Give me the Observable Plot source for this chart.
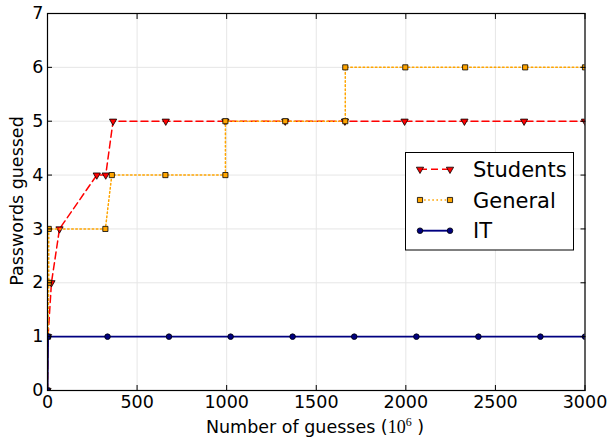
<!DOCTYPE html>
<html><head><meta charset="utf-8">
<script src="https://cdn.jsdelivr.net/npm/d3@7"></script>
<script src="https://cdn.jsdelivr.net/npm/@observablehq/plot@0.6"></script>
<style>
html,body{margin:0;padding:0;background:#fff;}
#chart{width:608px;height:441px;}
svg{display:block;}
</style></head><body><div id="chart"></div>
<script>
// ---- data ----
const seriesNames = ["Students", "General", "IT"];
const studentsX = [0, 3, 22, 67, 275, 325, 366, 660, 993, 1327, 1660, 1993, 2327, 2660, 3000];
const studentsY = [0, 1, 2, 3, 4, 4, 5, 5, 5, 5, 5, 5, 5, 5, 5];
const generalX = [0, 3, 7, 7, 323, 359, 658, 993, 993, 1327, 1662, 1662, 1997, 2331, 2666, 3000];
const generalY = [0, 1, 2, 3, 3, 4, 4, 4, 5, 5, 5, 6, 6, 6, 6, 6];
const itX = [0, 3, 335, 678, 1022, 1368, 1712, 2059, 2405, 2751, 3000];
const itY = [0, 1, 1, 1, 1, 1, 1, 1, 1, 1, 1];
const xTicks = [0, 500, 1000, 1500, 2000, 2500, 3000];
const yTicks = [0, 1, 2, 3, 4, 5, 6, 7];
const xLabel = "Number of guesses (";
const yLabel = "Passwords guessed";

const toRows = (xs, ys) => xs.map((x, i) => ({x, y: ys[i]}));
const students = toRows(studentsX, studentsY);
const general = toRows(generalX, generalY);
const it = toRows(itX, itY);

const styles = {
  Students: {stroke: "#ff0000", dash: "7,4", width: 1.5, symbol: "triangle", rotate: 180, fill: "#ff0000", r: 2.7},
  General: {stroke: "#ffa500", dash: "1.6,2.5", width: 1.5, symbol: "square", rotate: 0, fill: "#ffa500", r: 2.9},
  IT: {stroke: "#000080", dash: null, width: 1.9, symbol: "circle", rotate: 0, fill: "#000080", r: 2.8}
};
const dataBy = {Students: students, General: general, IT: it};

const FONT = "DejaVu Sans";
const fmt = d => String(d);
const marks = [
  Plot.gridX({ticks: xTicks, stroke: "#e6e6e6", strokeOpacity: 1}),
  Plot.gridY({ticks: yTicks, stroke: "#e6e6e6", strokeOpacity: 1})
];
for (const name of seriesNames) {
  const s = styles[name];
  marks.push(Plot.line(dataBy[name], {x: "x", y: "y", stroke: s.stroke, strokeWidth: s.width,
    strokeDasharray: s.dash ?? undefined, clip: true}));
  marks.push(Plot.dot(dataBy[name], {x: "x", y: "y", symbol: s.symbol, rotate: s.rotate, r: s.r,
    fill: s.fill, stroke: "black", strokeWidth: 0.8, clip: true}));
}
marks.push(
  Plot.axisX({ticks: xTicks, tickFormat: fmt, anchor: "bottom", tickSize: -5, tickPadding: 10.5, label: null, fontSize: 17.5, stroke: "black"}),
  Plot.axisX({ticks: xTicks, anchor: "top", tickSize: -5, tickFormat: () => "", label: null}),
  Plot.axisY({ticks: yTicks, tickFormat: fmt, anchor: "left", tickSize: -5, tickPadding: 9, label: null, fontSize: 17.5}),
  Plot.axisY({ticks: yTicks, anchor: "right", tickSize: -5, tickFormat: () => "", label: null}),
  Plot.frame({stroke: "black", strokeWidth: 1.2})
);

const plot = Plot.plot({
  width: 608, height: 441,
  marginLeft: 47, marginRight: 23.5, marginTop: 13, marginBottom: 51,
  style: {fontFamily: FONT, background: "white", color: "black"},
  x: {domain: [0, 3000]},
  y: {domain: [0, 7]},
  marks
});
document.getElementById("chart").appendChild(plot);

// ---- axis labels & legend ----
const svg = d3.select(plot);
const xl = svg.append("text").attr("x", 315).attr("y", 433).attr("text-anchor", "middle")
  .attr("font-family", FONT).attr("font-size", 17.5).attr("fill", "black");
xl.append("tspan").text(xLabel);
xl.append("tspan").attr("font-family", "Liberation Serif").attr("font-size", 18).text("10");
xl.append("tspan").attr("font-family", "Liberation Serif").attr("font-size", 12).attr("dy", -7).text("6");
xl.append("tspan").attr("dy", 7).text(" )");

svg.append("text").attr("transform", "translate(23,201) rotate(-90)").attr("text-anchor", "middle")
  .attr("font-family", FONT).attr("font-size", 17.5).attr("fill", "black").text(yLabel);

const lg = svg.append("g");
lg.append("rect").attr("x", 405.5).attr("y", 152.5).attr("width", 168).attr("height", 97.5)
  .attr("fill", "white").attr("stroke", "black").attr("stroke-width", 1);
const symMap = {triangle: d3.symbolTriangle, square: d3.symbolSquare, circle: d3.symbolCircle};
seriesNames.forEach((name, i) => {
  const s = styles[name];
  const y = 169.3 + i * 30.7;
  lg.append("line").attr("x1", 420).attr("x2", 450).attr("y1", y).attr("y2", y)
    .attr("stroke", s.stroke).attr("stroke-width", s.width).attr("stroke-dasharray", s.dash);
  const path = d3.symbol(symMap[s.symbol], s.r * s.r * Math.PI)();
  for (const px of [420, 450]) {
    lg.append("path").attr("d", path).attr("transform", `translate(${px},${y}) rotate(${s.rotate})`)
      .attr("fill", s.fill).attr("stroke", "black").attr("stroke-width", 0.8);
  }
  lg.append("text").attr("x", 473).attr("y", y + 7.5).attr("text-anchor", "start")
    .attr("font-family", FONT).attr("font-size", 21).attr("fill", "black").text(name);
});
</script>
</body></html>
